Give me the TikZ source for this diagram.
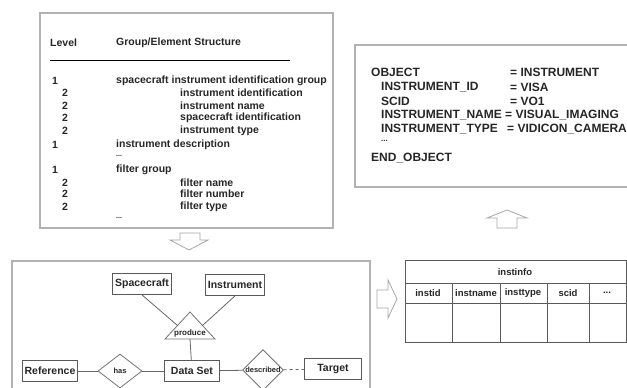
\documentclass[tikz,border=0pt]{standalone}
\usepackage{fontspec}
\setmainfont{Liberation Sans}
\usetikzlibrary{shapes.geometric,calc}

\begin{document}
\begin{tikzpicture}[x=1pt,y=-1pt,
    every node/.style={inner sep=0pt, anchor=west, text=black!85, font=\fontsize{10.5}{12}\selectfont\bfseries},
    frame/.style={draw=gray!60, line width=1.1pt},
    entity/.style={draw=black!65, line width=0.8pt, anchor=center, inner xsep=2.5pt, minimum height=21pt},
    rel/.style={diamond, draw=black!55, line width=0.8pt, anchor=center, inner sep=0pt, font=\fontsize{7.5}{8}\selectfont\bfseries},
    conn/.style={draw=gray!80!black, line width=0.8pt},
    blockarrow/.style={draw=gray!70, line width=0.8pt, fill=white},
    cell/.style={anchor=center, font=\fontsize{9.5}{10}\selectfont\bfseries}]{
    \useasboundingbox (0,0) rectangle (627,388);
    \clip (0,0) rectangle (627,388);

    % data dictionary
    \draw[frame] (40,13) rectangle (333,228);
    \node (level) at (50,43) {Level};
    \node (group) at (116,43) {Group/Element Structure};
    \draw[line width=0.8pt] (50,60) -- (290,60);
    \node (l1) at (52,81) {1};   \node (g1) at (116,81) {spacecraft instrument identification group};
    \node (l2) at (62,93) {2};   \node (g2) at (180,93) {instrument identification};
    \node (l3) at (62,106) {2};  \node (g3) at (180,106) {instrument name};
    \node (l4) at (62,118) {2};  \node (g4) at (180,118) {spacecraft identification};
    \node (l5) at (62,131) {2};  \node (g5) at (180,131) {instrument type};
    \node (l6) at (52,145) {1};  \node (g6) at (116,145) {instrument description};
    \node (g7) at (116,156) {\fontsize{7}{8}\selectfont ...};
    \node (l8) at (52,170) {1};  \node (g8) at (116,170) {filter group};
    \node (l9) at (62,183) {2};  \node (g9) at (180,183) {filter name};
    \node (l10) at (62,194) {2}; \node (g10) at (180,194) {filter number};
    \node (l11) at (62,207) {2}; \node (g11) at (180,207) {filter type};
    \node (g12) at (116,218) {\fontsize{7}{8}\selectfont ...};

    % PDS label
    \draw[frame] (355,45) rectangle (640,187);
    \begin{scope}[every node/.append style={font=\fontsize{12}{14}\selectfont\bfseries}]
    \node (obj) at (371,72) {OBJECT};          \node (objv) at (510,72) {= INSTRUMENT};
    \node (iid) at (381,87) {INSTRUMENT\_ID};   \node (iidv) at (510,87) {= VISA};
    \node (scid) at (381,101) {SCID};           \node (scidv) at (510,101) {= VO1};
    \node (iname) at (381,115) {INSTRUMENT\_NAME}; \node (inamev) at (505,115) {= VISUAL\_IMAGING};
    \node (itype) at (381,129) {INSTRUMENT\_TYPE}; \node (itypev) at (507,129) {= VIDICON\_CAMERA};
    \node (dots) at (381,141) {\fontsize{8}{8}\selectfont ...};
    \node (eobj) at (371,158) {END\_OBJECT};
    \end{scope}

    % block arrows
    \draw[blockarrow] (180,233) -- (200,233) -- (200,240) -- (208,240) -- (189,250) -- (170,240) -- (180,240) -- cycle;
    \draw[blockarrow] (497,228) -- (517,228) -- (517,218) -- (527,218) -- (507,210) -- (487,218) -- (497,218) -- cycle;
    \draw[blockarrow] (377,290) -- (388,290) -- (388,280) -- (397,299) -- (388,318) -- (388,308) -- (377,308) -- cycle;

    % E-R model
    \draw[frame] (12,261) rectangle (370,400);
    \node [entity] (spacecraft) at (142,284) {Spacecraft};
    \node [entity] (instrument) at (235,285) {Instrument};
    \node [entity, minimum width=55pt] (dataset) at (192,371) {Data Set};
    \node [entity] (reference) at (50,371) {Reference};
    \node [entity, minimum width=57pt] (target) at (333,369) {Target};
    \node [rel, minimum width=44pt, minimum height=34pt] (has) at (120,371) {has};
    \node [rel, minimum width=38pt, minimum height=31pt] (described) at (263,370) {described};
    \coordinate (pa) at (190,312);
    \coordinate (pl) at (165,339);
    \coordinate (pr) at (215,339);
    \draw[draw=black!55, line width=0.8pt] (pa) -- (pl) -- (pr) -- cycle;
    \node [cell, font=\fontsize{8}{8}\selectfont\bfseries] (produce) at (190,333) {produce};

    \path[conn] (spacecraft.south) edge ($(pa)!0.5!(pl)$);
    \path[conn] (instrument.south) edge ($(pa)!0.5!(pr)$);
    \path[conn] ($(pl)!0.5!(pr)$) edge (dataset);
    \path[conn] (reference) edge (has);
    \path[conn] (has) edge (dataset);
    \path[conn] (dataset) edge (described);
    \path[conn] (described) edge[dashed] (target);

    % relational table
    \draw[draw=gray!70!black, line width=0.8pt] (405,260) rectangle (626,342);
    \draw[draw=gray!70!black, line width=0.8pt] (405,283) -- (626,283) (405,303) -- (626,303)
        (452,283) -- (452,342) (500,283) -- (500,342) (547,283) -- (547,342) (589,283) -- (589,342);
    \node [cell] (tname) at (515,272) {instinfo};
    \node [cell] (c1) at (428,293) {instid};
    \node [cell] (c2) at (476,293) {instname};
    \node [cell] (c3) at (523,293) {insttype};
    \node [cell] (c4) at (568,293) {scid};
    \node [cell] (c5) at (607,293) {...};
    }
\end{tikzpicture}
\end{document}
